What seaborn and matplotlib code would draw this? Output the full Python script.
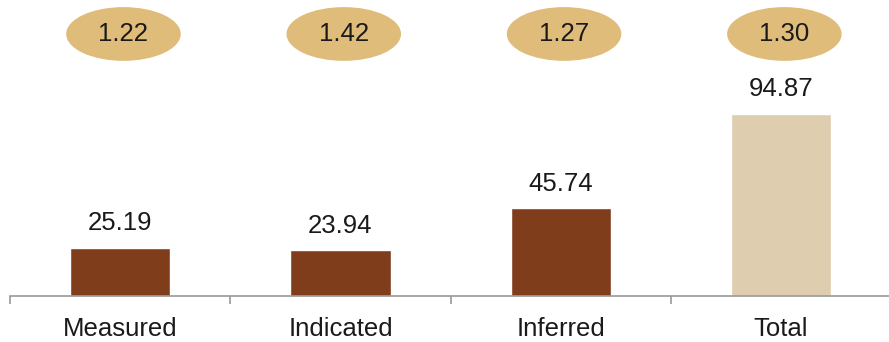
import matplotlib
matplotlib.use("Agg")
import matplotlib.pyplot as plt
from matplotlib.patches import Ellipse
from matplotlib.ticker import FixedLocator
import seaborn as sns
import pandas as pd

categories = ["Measured", "Indicated", "Inferred", "Total"]
tonnage = [25.19, 23.94, 45.74, 94.87]
grades = ["1.22", "1.42", "1.27", "1.30"]

bar_colors = ["#7F3D1C", "#7F3D1C", "#7F3D1C", "#DFCDB0"]
badge_color = "#E0BC7A"
axis_color = "#9A9A9A"
text_color = "#1a1a1a"

sns.set_theme(style="white")
plt.rcParams["font.family"] = ["Liberation Sans", "DejaVu Sans"]

df = pd.DataFrame({"category": categories, "value": tonnage})

fig = plt.figure(figsize=(8.89, 3.42), dpi=100)
ax = fig.add_axes([10 / 889, 46 / 342, 1 - 10 / 889, 1 - 46 / 342])

sns.barplot(data=df, x="category", y="value", hue="category",
            palette=bar_colors, width=0.455, legend=False, ax=ax,
            saturation=1)

ax.set_xlim(-0.5, 3.49)
ax.set_ylim(0, 154.2)

# value labels above each bar
for i, v in enumerate(tonnage):
    ax.annotate(f"{v:.2f}", (i, v), xytext=(0, 9), textcoords="offset points",
                ha="center", va="bottom", fontsize=18.5, color=text_color)

# grade badges along the top
for i, g in enumerate(grades):
    ax.add_patch(Ellipse((i + 0.015, 136.5), width=0.52, height=28,
                         facecolor=badge_color, edgecolor="none",
                         clip_on=False))
    ax.text(i + 0.015, 136.5, g, ha="center", va="center", fontsize=18.5,
            color=text_color)

# axes styling
for side in ["top", "right", "left"]:
    ax.spines[side].set_visible(False)
ax.spines["bottom"].set_color(axis_color)
ax.spines["bottom"].set_linewidth(1.2)
ax.set_yticks([])
ax.set_xlabel("")
ax.set_ylabel("")
ax.tick_params(axis="x", which="major", length=0, pad=15, labelsize=18.5,
               labelcolor=text_color)
ax.xaxis.set_minor_locator(FixedLocator([-0.5, 0.5, 1.5, 2.5, 3.5]))
ax.tick_params(axis="x", which="minor", length=6, width=1.2,
               color=axis_color, direction="out", bottom=True)

fig.savefig("out.png", dpi=100)
